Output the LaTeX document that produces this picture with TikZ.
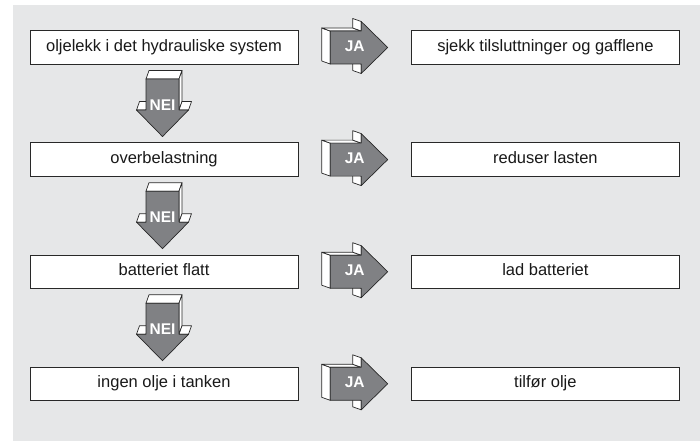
\documentclass[tikz,border=0pt]{standalone}
\usepackage{fontspec}
\setmainfont{Liberation Sans}
\usepackage{tikz}
\usetikzlibrary{positioning, calc}
\definecolor{bakgrunn}{RGB}{230,231,232}
\definecolor{pilgraa}{RGB}{128,129,132}
\definecolor{strek}{RGB}{40,40,40}
\tikzset{
  boks/.style   ={draw=strek, fill=white, line width=0.9pt, minimum width=268pt, minimum height=33.5pt, inner sep=0pt,
                  font=\fontsize{16.5}{18}\selectfont, text=black!90, text height=0.73em, text depth=0pt},
  pilside/.style={fill=white, draw=strek, line width=0.7pt, line join=round},
  pilfront/.style={fill=pilgraa, draw=strek, line width=0.7pt, line join=round},
  pillab/.style ={font=\fontsize{15.5}{17}\selectfont\bfseries, text=white, inner sep=0pt, text height=0.72em, text depth=0pt},
  pics/pil3d/.style={code={
    \filldraw[pilside] (-31,-16.5) -- (-39.5,-13.5) -- (-39.5,19.5) -- (-31,16.5) -- cycle;
    \filldraw[pilside] (-31,16.5) -- (-39.5,19.5) -- (-8.5,19.5) -- (0,16.5) -- cycle;
    \filldraw[pilside] (0,16.5) -- (-8.5,19.5) -- (-8.5,29) -- (0,26) -- cycle;
    \filldraw[pilside] (0,-26) -- (-8.5,-23) -- (-8.5,-13.5) -- (0,-16.5) -- cycle;
    \filldraw[pilfront] (-31,-16.5) -- (-31,16.5) -- (0,16.5) -- (0,26) -- (26.5,0) -- (0,-26) -- (0,-16.5) -- cycle;
  }},
}
\begin{document}
\begin{tikzpicture}[x=1pt, y=1pt, node distance=77.7pt and 112.5pt]
  \useasboundingbox (0,0) rectangle (700,-441);
  \fill[bakgrunn] (12.6,-5) rectangle (700,-441);
  \node[boks] (q1) at (164,-47.5) {oljelekk i det hydrauliske system};
  \node[boks, right=of q1] (t1) {sjekk tilsluttninger og gafflene};
  \node[boks, below=of q1] (q2) {overbelastning};
  \node[boks, right=of q2] (t2) {reduser lasten};
  \node[boks, below=of q2] (q3) {batteriet flatt};
  \node[boks, right=of q3] (t3) {lad batteriet};
  \node[boks, below=of q3] (q4) {ingen olje i tanken};
  \node[boks, right=of q4] (t4) {tilfør olje};
  \coordinate (j1) at ($(q1.east)!0.5!(t1.west)$);
  \coordinate (j2) at ($(q2.east)!0.5!(t2.west)$);
  \coordinate (j3) at ($(q3.east)!0.5!(t3.west)$);
  \coordinate (j4) at ($(q4.east)!0.5!(t4.west)$);
  \coordinate (n1) at ($(q1.south)!0.5!(q2.north)$);
  \coordinate (n2) at ($(q2.south)!0.5!(q3.north)$);
  \coordinate (n3) at ($(q3.south)!0.5!(q4.north)$);
  \pic at ($(j1)+(6.5,0)$) {pil3d}; \node[pillab] (ja1) at (j1) {JA};
  \pic at ($(j2)+(6.5,0)$) {pil3d}; \node[pillab] (ja2) at (j2) {JA};
  \pic at ($(j3)+(6.5,0)$) {pil3d}; \node[pillab] (ja3) at (j3) {JA};
  \pic at ($(j4)+(6.5,0)$) {pil3d}; \node[pillab] (ja4) at (j4) {JA};
  \pic[rotate=-90] at ($(n1)+(-1.5,-6.5)$) {pil3d}; \node[pillab] (nei1) at ($(n1)+(-1.5,-3)$) {NEI};
  \pic[rotate=-90] at ($(n2)+(-1.5,-6.5)$) {pil3d}; \node[pillab] (nei2) at ($(n2)+(-1.5,-3)$) {NEI};
  \pic[rotate=-90] at ($(n3)+(-1.5,-6.5)$) {pil3d}; \node[pillab] (nei3) at ($(n3)+(-1.5,-3)$) {NEI};
\end{tikzpicture}
\end{document}
